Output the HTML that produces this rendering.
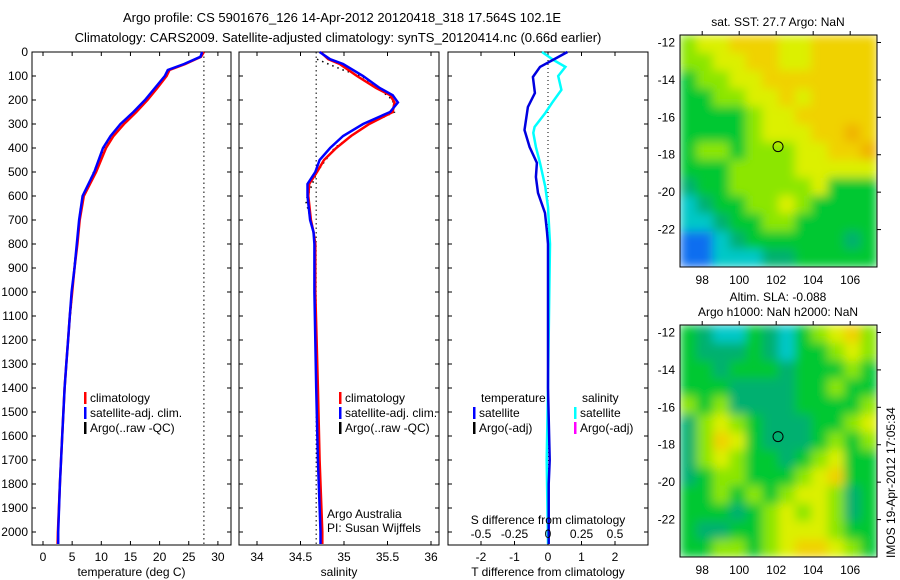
<!DOCTYPE html>
<html><head><meta charset="utf-8"><style>
body{margin:0;background:#fff;}
svg{display:block;font-family:"Liberation Sans",sans-serif;}
text{fill:#000;}
</style></head><body>
<svg id="fig" width="900" height="580" viewBox="0 0 900 580">
<defs>
<filter id="bl" x="0" y="0" width="1" height="1"><feGaussianBlur stdDeviation="5" edgeMode="duplicate"/></filter>
<clipPath id="c1"><rect x="680" y="35" width="197" height="232"/></clipPath>
<clipPath id="c2"><rect x="680" y="325" width="197" height="232"/></clipPath>
</defs>
<text x="342" y="22" font-size="13" text-anchor="middle">Argo profile: CS 5901676_126 14-Apr-2012 20120418_318 17.564S 102.1E</text>
<text x="338" y="42" font-size="13" text-anchor="middle">Climatology: CARS2009. Satellite-adjusted climatology: synTS_20120414.nc (0.66d earlier)</text>
<g id="g"></g>
</svg>
<script>
// ---- data ----
var depthT = [0,20,50,75,100,150,200,250,300,350,400,500,600,700,800,900,1000,1100,1200,1300,1400,1600,1800,2000,2050];
var tempSat = [27.3,27.0,24.2,21.4,20.9,19.2,17.5,15.5,13.3,11.6,10.3,8.8,6.8,6.2,5.8,5.4,4.9,4.6,4.3,4.0,3.7,3.3,2.9,2.6,2.6];
var tempClim = [27.6,27.1,24.4,21.7,21.2,19.6,17.9,16.0,13.9,12.1,10.8,9.1,7.0,6.3,5.9,5.4,5.0,4.6,4.3,4.0,3.7,3.3,2.9,2.55,2.5];
var depthArgoT = [80,120,180,240,300,380,460,560,650,780,920,1050,1200,1400,1600,1800,2000];
var tempArgo = [21.5,20.3,18.6,16.3,13.8,11.0,9.4,7.6,6.4,5.9,5.2,4.9,4.3,3.7,3.3,2.9,2.6];
var depthS = [0,30,50,100,150,180,210,250,300,350,400,450,500,550,600,700,750,800,1000,1400,1700,2000,2050];
var salSat = [34.72,34.84,34.99,35.22,35.41,35.56,35.62,35.53,35.22,34.99,34.84,34.72,34.67,34.58,34.58,34.61,34.65,34.66,34.66,34.68,34.70,34.73,34.73];
var salClim = [34.73,34.82,34.95,35.15,35.37,35.53,35.58,35.56,35.29,35.08,34.91,34.77,34.69,34.60,34.59,34.62,34.65,34.67,34.67,34.70,34.72,34.75,34.75];
var depthArgoS = [30,50,75,100,150,200,250,300,400,500,620,700];
var salArgo = [34.69,34.82,34.99,35.20,35.39,35.56,35.58,35.29,34.89,34.69,34.56,34.62];
var depthD = [0,33,62,104,171,229,325,396,462,521,587,671,750,800,1000,1400,1700,1800,2050];
var tDiff = [0.58,0.15,-0.24,-0.45,-0.39,-0.60,-0.70,-0.55,-0.33,-0.36,-0.30,-0.09,-0.03,0.0,0.0,0.0,0.05,0.02,0.02];
var depthDS = [0,33,62,100,158,212,254,312,337,396,462,562,646,800,1000,1400,1700,2050];
var sDiff = [-0.045,0.04,0.13,0.076,0.10,0.03,-0.02,-0.10,-0.11,-0.09,-0.06,-0.02,0.0,0.015,0.01,0.0,-0.01,0.0];
var depthTicks = [0,100,200,300,400,500,600,700,800,900,1000,1100,1200,1300,1400,1500,1600,1700,1800,1900,2000];
var tempTicks = [0,5,10,15,20,25,30];
var salTicks = [34,34.5,35,35.5,36];
var tdTicks = [-2,-1,0,1,2];
var sdTicks = [-0.5,-0.25,0,0.25,0.5];
var satSST = 27.6;
var argoLon = 102.1, argoLat = -17.564;
var lonTicks = [98,100,102,104,106];
var latTicks = [-12,-14,-16,-18,-20,-22];
var sstGrid = ["LYYOOOYYOOOO","LLYYOOYYOOOO","GLLYYOOOOOOO","GGLLYYOYOOOO","GGGGLYYOOOOO","GGGGLYYYOORO","GLLGLLLYYOOR","GGGLLLLYYYYY","TGGLLLLLYGGG","CTGGLLYLGGGG","CCTGGLLGGGGG","BBCTGGGGGGTG","BBCCCTTGGGGG"];
var slaGrid = ["GTCCGTCGLYOL","GTTTGTCGGLYL","GGTGGGTGGGLG","GGGTTTTGGLGG","LGLTTTTGGGGL","TLYLGTTTGGLY","TLOYGTTTGLGL","TLYLGGTGLYGG","TGLLGGGLYOGG","GGLGLGLYYLTG","GGGTGLYLYLTG","GTTGGLYYYLGG","GGLLGLYOOYLG"];

var NS='http://www.w3.org/2000/svg', G=document.getElementById('g');
function mk(t,a,p){var e=document.createElementNS(NS,t);for(var k in a)e.setAttribute(k,a[k]);(p||G).appendChild(e);return e;}
function tx(x,y,s,anc,sz,p){var e=mk('text',{x:x,y:y,'font-size':sz||12,'text-anchor':anc||'start'},p);e.textContent=s;return e;}
var Y0=52, PY=0.24, BOT=545;
function yD(d){return Y0+d*PY;}
function xT(v){return 43+v*5.83;}
function xS(v){return 257+(v-34)*87;}
function xTD(v){return 548+v*33.5;}
function xSD(v){return 548+v*134;}
function line(xs,ys,fx,col,w,dash,name){
  var pts=xs.map(function(v,i){return fx(v).toFixed(1)+','+yD(ys[i]).toFixed(1);}).join(' ');
  var e=mk('polyline',{points:pts,fill:'none',stroke:col,'stroke-width':w});
  if(dash)e.setAttribute('stroke-dasharray',dash);
  
  
}
function panel(x0,x1,name,ticks,fx,lab,xlabel){
  var r=mk('rect',{x:x0,y:Y0,width:x1-x0,height:BOT-Y0,fill:'none',stroke:'#000','stroke-width':1});
  
  
  ticks.forEach(function(t){var x=fx(t);
    mk('line',{x1:x,x2:x,y1:Y0,y2:Y0+4,stroke:'#000'});
    mk('line',{x1:x,x2:x,y1:BOT,y2:BOT-4,stroke:'#000'});
    if(lab){var e=tx(x,561,String(t),'middle',12);}
  });
  depthTicks.forEach(function(d){mk('line',{x1:x0,x2:x0+4,y1:yD(d),y2:yD(d),stroke:'#000'});mk('line',{x1:x1,x2:x1-4,y1:yD(d),y2:yD(d),stroke:'#000'});});
  if(xlabel){var e=tx((x0+x1)/2,576,xlabel,'middle',12);}
}
depthTicks.forEach(function(d){var e=tx(28,yD(d)+4,String(d),'end',12);});
// panel 1
panel(32,231,'temperature-panel',tempTicks,xT,true,'temperature (deg C)');
mk('line',{x1:xT(satSST),x2:xT(satSST),y1:Y0,y2:BOT,stroke:'#000','stroke-dasharray':'1.5,3'});
line(tempArgo,depthArgoT,xT,'#000',1.5,'1.5,4','temp-argo-line');
line(tempClim,depthT,xT,'#f00',2.5,null,'temp-climatology-line');
line(tempSat,depthT,xT,'#00f',2.5,null,'temp-satellite-line');
// panel 2
panel(239,439,'salinity-panel',salTicks,xS,true,'salinity');
mk('line',{x1:xS(34.68),x2:xS(34.68),y1:Y0,y2:BOT,stroke:'#000','stroke-dasharray':'1.5,3'});
line(salArgo,depthArgoS,xS,'#000',1.5,'1.5,4','sal-argo-line');
line(salClim,depthS,xS,'#f00',2.5,null,'sal-climatology-line');
line(salSat,depthS,xS,'#00f',2.5,null,'sal-satellite-line');
// panel 3
panel(448,648,'difference-panel',tdTicks,xTD,true,'T difference from climatology');
mk('line',{x1:548,x2:548,y1:Y0,y2:BOT,stroke:'#000','stroke-dasharray':'1,3'});
line(sDiff,depthDS,xSD,'#00ffff',2.5,null,'sal-diff-line');
line(tDiff,depthD,xTD,'#0000e0',2.5,null,'temp-diff-line');
sdTicks.forEach(function(t){var e=tx(xSD(t),538,String(t),'middle',12);});
var sdt=tx(548,524,'S difference from climatology','middle',12);
// legends
function leg(x,y,col,s,name){mk('rect',{x:x,y:y-10,width:2.5,height:12,fill:col});var e=tx(x+6,y,s,'start',12);}
leg(84,402,'#f00','climatology','legend-climatology');
leg(84,417,'#00f','satellite-adj. clim.','legend-satellite');
leg(84,432,'#000','Argo(..raw -QC)','legend-argo');
leg(339,402,'#f00','climatology','legend2-climatology');
leg(339,417,'#00f','satellite-adj. clim.','legend2-satellite');
leg(339,432,'#000','Argo(..raw -QC)','legend2-argo');
var lt=tx(481,402,'temperature');
var ls=tx(582,402,'salinity');
leg(473,417,'#00f','satellite','legend-t-satellite');
leg(473,432,'#000','Argo(-adj)','legend-t-argo');
leg(574,417,'#00ffff','satellite','legend-s-satellite');
leg(574,432,'#ff00ff','Argo(-adj)','legend-s-argo');
var a1=tx(327,518,'Argo Australia');
var a2=tx(327,532,'PI: Susan Wijffels');
// maps
var PAL={B:'#0a6ef0',C:'#00c8c8',T:'#00b070',G:'#00c832',L:'#8ce600',Y:'#dcf000',O:'#f0d200',R:'#f0b400'};
var LON0=96.8,LON1=107.45,LAT0=-11.6,LAT1=-24.0;
function map(y0,grid,name,clip,t1,t1y,t2,t2y){
  function mx(lon){return 680+(lon-LON0)/(LON1-LON0)*197;}
  function my(lat){return y0+(lat-LAT0)/(LAT1-LAT0)*232;}
  var g=mk('g',{'clip-path':'url(#'+clip+')'});
  var g2=mk('g',{filter:'url(#bl)'},g);
  var nr=grid.length,nc=grid[0].length,cw=197/nc,ch=232/nr;
  grid.forEach(function(row,i){for(var j=0;j<nc;j++){var c=mk('rect',{x:680+j*cw,y:y0+i*ch,width:cw+0.5,height:ch+0.5,fill:PAL[row[j]]},g2);
    
    }});
  var f=mk('rect',{x:680,y:y0,width:197,height:232,fill:'none',stroke:'#000'});
  
  lonTicks.forEach(function(l){var x=mx(l);mk('line',{x1:x,x2:x,y1:y0,y2:y0-4,stroke:'#000'});
    var e=tx(x,y0+249,String(l),'middle',12);});
  latTicks.forEach(function(l){var y=my(l);mk('line',{x1:877,x2:881,y1:y,y2:y,stroke:'#000'});
    var e=tx(675,y+4,String(l),'end',12);});
  var c=mk('circle',{cx:mx(argoLon),cy:my(argoLat),r:5,fill:'none',stroke:'#000'});
  
  var e1=tx(778,t1y,t1,'middle',12);
  if(t2){var e2=tx(778,t2y,t2,'middle',12);}
}
map(35,sstGrid,'sst-map','c1','sat. SST: 27.7 Argo: NaN',26);
map(325,slaGrid,'sla-map','c2','Altim. SLA: -0.088',301,'Argo h1000: NaN h2000: NaN',316);
var ts=tx(0,0,'IMOS 19-Apr-2012 17:05:34','start',12);
ts.setAttribute('transform','translate(895,558) rotate(-90)');


</script>
</body></html>
